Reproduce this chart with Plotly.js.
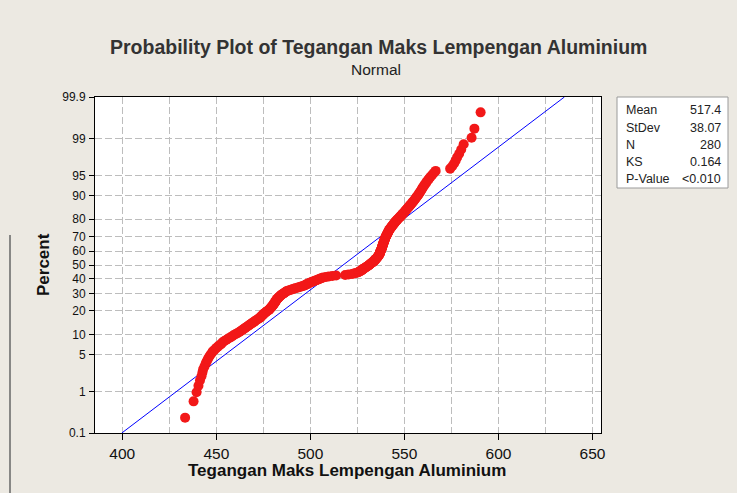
<!DOCTYPE html>
<html>
<head>
<meta charset="utf-8">
<script src="https://cdn.plot.ly/plotly-3.0.1.min.js"></script>
<style>
html,body{margin:0;padding:0;background:#ECE9E2;}
#chart{width:737px;height:493px;}
</style>
</head>
<body>
<div id="chart"></div>
<script>
const stress = [
  433.4, 437.9, 439.5, 440.5, 441.3, 442.1, 442.6, 443.0, 443.7, 444.3,
  444.9, 445.5, 446.1, 446.8, 447.5, 448.1, 449.1, 449.9, 450.8, 451.8,
  452.7, 453.3, 454.3, 455.4, 456.4, 457.5, 458.5, 459.3, 460.4, 461.4,
  462.4, 463.2, 464.0, 464.7, 465.4, 466.1, 466.8, 467.5, 468.1, 468.8,
  469.5, 470.2, 470.7, 471.3, 472.0, 472.7, 473.2, 473.7, 474.0, 474.4,
  474.8, 475.2, 475.7, 476.1, 476.6, 477.0, 477.8, 478.1, 478.4, 478.7,
  479.0, 479.3, 479.6, 479.9, 480.2, 480.4, 480.6, 480.9, 481.1, 481.3,
  481.5, 481.7, 481.9, 482.1, 482.3, 482.7, 483.0, 483.3, 483.6, 483.9,
  484.2, 484.6, 485.0, 485.5, 485.9, 486.3, 486.8, 487.1, 487.6, 488.5,
  489.3, 490.3, 491.2, 492.0, 493.0, 493.9, 494.7, 495.6, 496.6, 497.1,
  497.7, 498.2, 498.9, 499.5, 500.1, 500.7, 501.3, 502.1, 502.8, 503.5,
  504.1, 504.8, 505.4, 506.1, 506.8, 508.3, 509.8, 511.7, 513.7, 518.5,
  520.3, 522.2, 523.2, 524.1, 525.2, 525.7, 526.1, 526.5, 526.9, 527.3,
  527.7, 527.9, 528.3, 528.7, 529.1, 529.5, 529.9, 530.3, 530.7, 531.1,
  531.4, 531.7, 532.0, 532.3, 532.7, 533.0, 533.4, 533.6, 533.9, 534.2,
  534.4, 534.6, 534.8, 535.1, 535.3, 535.5, 535.7, 535.9, 536.1, 536.3,
  536.5, 536.6, 536.7, 536.9, 537.0, 537.1, 537.1, 537.2, 537.3, 537.4,
  537.6, 537.7, 537.8, 537.9, 538.0, 538.1, 538.1, 538.2, 538.3, 538.5,
  538.5, 538.6, 538.7, 538.8, 538.9, 539.0, 539.1, 539.2, 539.3, 539.4,
  539.5, 539.6, 539.7, 539.8, 539.9, 540.1, 540.2, 540.4, 540.5, 540.6,
  540.8, 541.0, 541.1, 541.3, 541.4, 541.6, 541.8, 541.9, 542.1, 542.4,
  542.6, 542.9, 543.1, 543.3, 543.6, 543.9, 544.1, 544.4, 544.7, 544.9,
  545.2, 545.5, 545.9, 546.2, 546.5, 546.9, 547.3, 547.7, 548.0, 548.4,
  548.7, 549.1, 549.5, 549.8, 550.2, 550.5, 550.9, 551.2, 551.6, 552.0,
  552.4, 552.8, 553.2, 553.6, 554.0, 554.4, 554.8, 555.2, 555.6, 556.0,
  556.4, 556.9, 557.3, 557.7, 558.1, 558.5, 558.9, 559.3, 559.7, 560.2,
  560.7, 561.3, 561.8, 562.4, 563.1, 563.9, 564.7, 565.6, 566.6, 574.3,
  575.4, 576.4, 577.2, 578.0, 579.1, 580.2, 581.5, 585.7, 587.2, 590.5
];

// Fitted normal parameters (from the stats box)
const meanVal = 517.4;
const stdevVal = 38.07;

// Stats box
const statLabels = ['Mean', 'StDev', 'N', 'KS', 'P-Value'];
const statValues = ['517.4', '38.07', '280', '0.164', '&lt;0.010'];

// Axis ticks
const percentTicks = [0.1, 1, 5, 10, 20, 30, 40, 50, 60, 70, 80, 90, 95, 99, 99.9];
const percentTickLabels = ['0.1', '1', '5', '10', '20', '30', '40', '50', '60', '70', '80', '90', '95', '99', '99.9'];
const xTicks = [400, 450, 500, 550, 600, 650];

// Inverse standard normal CDF (Acklam) -> normal probability axis scale
function probit(p) {
  const a = [-3.969683028665376e+01, 2.209460984245205e+02, -2.759285104469687e+02, 1.383577518672690e+02, -3.066479806614716e+01, 2.506628277459239e+00];
  const b = [-5.447609879822406e+01, 1.615858368580409e+02, -1.556989798598866e+02, 6.680131188771972e+01, -1.328068155288572e+01];
  const c = [-7.784894002430293e-03, -3.223964580411365e-01, -2.400758277161838e+00, -2.549732539343734e+00, 4.374664141464968e+00, 2.938163982698783e+00];
  const d = [7.784695709041462e-03, 3.224671290700398e-01, 2.445134137142996e+00, 3.754408661907416e+00];
  const pl = 0.02425, ph = 1 - pl;
  let q, r;
  if (p < pl) {
    q = Math.sqrt(-2 * Math.log(p));
    return (((((c[0]*q+c[1])*q+c[2])*q+c[3])*q+c[4])*q+c[5]) / ((((d[0]*q+d[1])*q+d[2])*q+d[3])*q+1);
  } else if (p <= ph) {
    q = p - 0.5; r = q*q;
    return (((((a[0]*r+a[1])*r+a[2])*r+a[3])*r+a[4])*r+a[5])*q / (((((b[0]*r+b[1])*r+b[2])*r+b[3])*r+b[4])*r+1);
  } else {
    q = Math.sqrt(-2 * Math.log(1 - p));
    return -(((((c[0]*q+c[1])*q+c[2])*q+c[3])*q+c[4])*q+c[5]) / ((((d[0]*q+d[1])*q+d[2])*q+d[3])*q+1);
  }
}

const n = stress.length;
// Median-rank plotting positions (Minitab default), mapped to probability scale
const yPts = stress.map((v, i) => probit((i + 1 - 0.3) / (n + 0.4)));

const zLo = probit(0.001), zHi = probit(0.999);
const fitX = [meanVal + stdevVal * zLo, meanVal + stdevVal * zHi];
const fitY = [zLo, zHi];

const FONT = 'Liberation Sans, Arial, sans-serif';
const gridCol = '#BDBDBD';

const traces = [
  {x: fitX, y: fitY, type: 'scatter', mode: 'lines', line: {color: '#0000FF', width: 1}, hoverinfo: 'skip'},
  {x: stress, y: yPts, type: 'scatter', mode: 'markers', marker: {color: '#F21818', size: 10, line: {width: 0}}}
];

// Plot area in pixels: x 95..601, y 97..433
const L = 95, R = 601, T = 97, B = 433, W = R - L, H = B - T;
const px = v => (v - L) / W;
const py = v => (B - v) / H;

const annotations = [
  {text: '<b>Probability Plot of Tegangan Maks Lempengan Aluminium</b>', xref: 'paper', yref: 'paper',
   x: px(378), y: py(47), xanchor: 'center', yanchor: 'middle', showarrow: false,
   font: {family: FONT, size: 19.5, color: '#333333'}},
  {text: 'Normal', xref: 'paper', yref: 'paper', x: px(376), y: py(69), xanchor: 'center', yanchor: 'middle',
   showarrow: false, font: {family: FONT, size: 15.5, color: '#222222'}},
  {text: '<b>Tegangan Maks Lempengan Aluminium</b>', xref: 'paper', yref: 'paper', x: px(347), y: py(470),
   xanchor: 'center', yanchor: 'middle', showarrow: false, font: {family: FONT, size: 17, color: '#111111'}},
  {text: '<b>Percent</b>', xref: 'paper', yref: 'paper', x: px(43), y: py(265), textangle: -90,
   xanchor: 'center', yanchor: 'middle', showarrow: false, font: {family: FONT, size: 17, color: '#111111'}}
];
const rowY = [110.5, 127.5, 144.5, 161.5, 178.5];
statLabels.forEach((lab, k) => {
  annotations.push({text: lab, xref: 'paper', yref: 'paper', x: px(624), y: py(rowY[k]), xanchor: 'left', yanchor: 'middle',
    showarrow: false, font: {family: FONT, size: 12.5, color: '#222222'}});
  annotations.push({text: statValues[k], xref: 'paper', yref: 'paper', x: px(723), y: py(rowY[k]), xanchor: 'right', yanchor: 'middle',
    showarrow: false, font: {family: FONT, size: 12.5, color: '#222222'}});
});

const layout = {
  width: 737, height: 493,
  margin: {l: L, r: 737 - R, t: T, b: 493 - B, pad: 0},
  paper_bgcolor: '#ECE9E2',
  plot_bgcolor: '#FFFFFF',
  showlegend: false,
  xaxis: {
    range: [385.5, 654.5], tickvals: xTicks, ticktext: xTicks.map(String),
    ticks: 'outside', ticklen: 6, tickcolor: '#000', tickwidth: 1,
    showgrid: true, gridcolor: gridCol, griddash: '7px,3px', gridwidth: 1,
    minor: {dtick: 25, tick0: 400, showgrid: true, gridcolor: gridCol, griddash: '7px,3px', gridwidth: 1, ticks: ''},
    zeroline: false, showline: true, mirror: true, linecolor: '#000', linewidth: 1,
    tickfont: {family: FONT, size: 15.5, color: '#111'}
  },
  yaxis: {
    range: [zLo, zHi], tickvals: percentTicks.map(p => probit(p / 100)), ticktext: percentTickLabels,
    ticks: 'outside', ticklen: 5, tickcolor: '#000', tickwidth: 1, ticklabelstandoff: 1,
    showgrid: true, gridcolor: gridCol, griddash: '7px,3px', gridwidth: 1,
    zeroline: false, showline: true, mirror: true, linecolor: '#000', linewidth: 1,
    tickfont: {family: FONT, size: 12, color: '#111'}
  },
  shapes: [
    {type: 'rect', xref: 'paper', yref: 'paper', x0: px(617), x1: px(728), y0: py(97), y1: py(188),
     fillcolor: '#FFFFFF', line: {color: '#9A9A9A', width: 1}, layer: 'below'},
    {type: 'line', xref: 'paper', yref: 'paper', x0: px(10), x1: px(10), y0: py(235), y1: py(493),
     line: {color: '#666666', width: 1.5}}
  ],
  annotations: annotations
};

Plotly.newPlot('chart', traces, layout, {displayModeBar: false, staticPlot: true});
</script>
</body>
</html>
